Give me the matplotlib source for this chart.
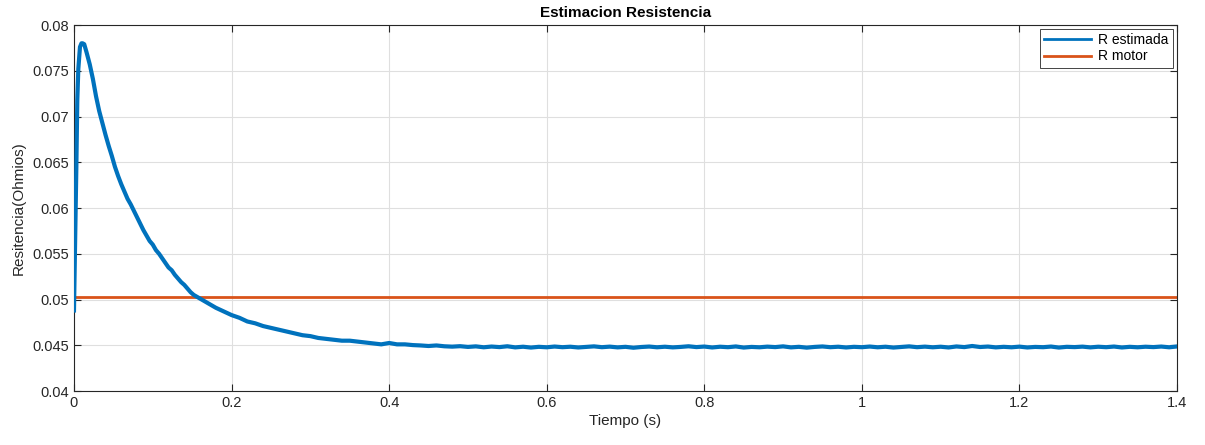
import numpy as np
import matplotlib.pyplot as plt
from matplotlib.lines import Line2D

plt.rcParams['font.family'] = ['Liberation Sans', 'DejaVu Sans']

# estimated resistance (Ohm) vs time (s): start-up and peak
t_rise = [0.0, 0.001, 0.002, 0.003, 0.0042, 0.0055, 0.0076, 0.0095, 0.011, 0.013]
r_rise = [0.0488, 0.0540, 0.0585, 0.0645, 0.0718, 0.0752, 0.0776, 0.0780, 0.0780, 0.0779]

# decay, one sample every 4 ms from 0.016 s to 0.156 s
r_decay = [0.0770, 0.0757, 0.0741, 0.0722, 0.0706, 0.0693, 0.0680, 0.0668, 0.0657, 0.0645,
           0.0635, 0.0626, 0.0618, 0.0610, 0.0604, 0.0597, 0.0590, 0.0583, 0.0576, 0.0570,
           0.0564, 0.0560, 0.0554, 0.0550, 0.0545, 0.0540, 0.0535, 0.0532, 0.0527, 0.0523,
           0.0519, 0.0516, 0.0512, 0.0508, 0.0505, 0.0503]

# settling part, one sample every 10 ms from 0.16 s
r_settle = [0.0501, 0.0496, 0.0491, 0.0487, 0.0483, 0.0480, 0.0476, 0.0474, 0.0471, 0.0469,
            0.0467, 0.0465, 0.0463, 0.0461, 0.0460, 0.0458, 0.0457, 0.0456, 0.0455, 0.0455,
            0.0454, 0.0453, 0.0452, 0.0451, 0.04525, 0.0451, 0.0451, 0.04502, 0.04498, 0.04492,
            0.04498, 0.04489]
r_steady = [0.04485, 0.04490, 0.04482, 0.04488, 0.04478, 0.04486, 0.04480, 0.04489, 0.04477, 0.04484,
            0.04475, 0.04483, 0.04478, 0.04486, 0.04479, 0.04484, 0.04476, 0.04482, 0.04488, 0.04479,
            0.04485, 0.04477, 0.04483, 0.04473, 0.04481, 0.04486, 0.04478, 0.04484, 0.04477, 0.04482,
            0.04489, 0.04480, 0.04486, 0.04476, 0.04484, 0.04479, 0.04487, 0.04475, 0.04482, 0.04478,
            0.04485, 0.04480, 0.04488, 0.04477, 0.04483, 0.04474, 0.04482, 0.04487, 0.04479, 0.04484,
            0.04476, 0.04483, 0.04479, 0.04486, 0.04478, 0.04484, 0.04475, 0.04482, 0.04488, 0.04479,
            0.04485, 0.04478, 0.04484, 0.04476, 0.04487, 0.04480, 0.04492, 0.04481, 0.04486, 0.04477,
            0.04483, 0.04478, 0.04485, 0.04476, 0.04482, 0.04479, 0.04486, 0.04475, 0.04483, 0.04480,
            0.04485, 0.04477, 0.04484, 0.04479, 0.04486, 0.04476, 0.04483, 0.04478, 0.04484, 0.04480,
            0.04486, 0.04478, 0.04487]

t_decay = np.round(np.arange(len(r_decay)) * 0.004 + 0.016, 3)
t_tail = np.round(np.arange(len(r_settle) + len(r_steady)) * 0.01 + 0.16, 3)

t = np.concatenate([t_rise, t_decay, t_tail])
r_est = np.concatenate([r_rise, r_decay, r_settle, r_steady])

r_motor = 0.0503
t_motor = [0.0, 1.4]

blue = '#0072BD'
orange = '#D95319'

fig = plt.figure(figsize=(12.05, 4.45), dpi=100)
ax = fig.add_axes([0.0614, 0.1213, 0.9154, 0.8225])

ax.plot(t, r_est, color=blue, lw=3.0, zorder=3)
ax.plot(t_motor, [r_motor, r_motor], color=orange, lw=2.0, zorder=2)

ax.set_xlim(0, 1.4)
ax.set_ylim(0.04, 0.08)
ax.set_xticks(np.arange(0, 1.41, 0.2))
ax.set_xticklabels(['0', '0.2', '0.4', '0.6', '0.8', '1', '1.2', '1.4'])
ax.set_yticks(np.arange(0.04, 0.0801, 0.005))
ax.set_yticklabels(['0.04', '0.045', '0.05', '0.055', '0.06', '0.065', '0.07', '0.075', '0.08'])

ax.grid(True, color='#dfdfdf', lw=0.8)
ax.set_axisbelow(True)
ax.tick_params(direction='in', length=5, width=0.8, colors='#262626', labelsize=10.5,
               top=True, right=True, labeltop=False, labelright=False)
for s in ax.spines.values():
    s.set_color('#262626')
    s.set_linewidth(0.8)

ax.set_title('Estimacion Resistencia', fontsize=11, fontweight='bold', pad=6)
ax.set_xlabel('Tiempo (s)', fontsize=11, color='#262626', labelpad=3)
ax.set_ylabel('Resitencia(Ohmios)', fontsize=11, color='#262626', labelpad=5)

handles = [Line2D([], [], color=blue, lw=2), Line2D([], [], color=orange, lw=2)]
leg = ax.legend(handles, ['R estimada', 'R motor'], loc='upper right', fontsize=10,
                fancybox=False, framealpha=1, edgecolor='#262626', handlelength=3.4,
                borderpad=0.3, labelspacing=0.15, borderaxespad=0.3, handletextpad=0.5)
leg.get_frame().set_linewidth(0.6)

fig.savefig('out.png')
